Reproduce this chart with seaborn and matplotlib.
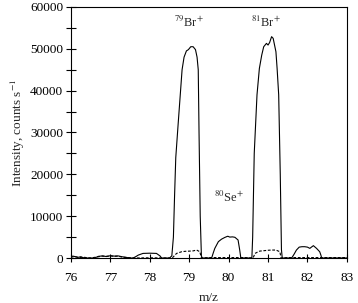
import matplotlib
matplotlib.use("Agg")
import matplotlib.pyplot as plt
import seaborn as sns
import pandas as pd
from matplotlib.ticker import MultipleLocator

# solid trace (m/z, counts s-1)
mz_solid = [76.0, 76.05, 76.1, 76.18, 76.25, 76.3, 76.4, 76.6, 76.7, 76.8, 76.9, 77.0,
            77.1, 77.2, 77.3, 77.5, 77.58, 77.65, 77.71, 77.83, 78.0, 78.17, 78.26, 78.3,
            78.5, 78.56, 78.6, 78.63, 78.66, 78.72, 78.77, 78.82, 78.87, 78.93, 78.98,
            79.04, 79.1, 79.16, 79.2, 79.23, 79.25, 79.28, 79.31, 79.33,
            79.57, 79.61, 79.65, 79.74, 79.82, 79.9, 79.95, 79.98, 80.03, 80.1, 80.16,
            80.24, 80.28, 80.31,
            80.59, 80.61, 80.65, 80.69, 80.72, 80.78, 80.84, 80.89, 80.96, 81.0, 81.04,
            81.09, 81.13, 81.2, 81.23, 81.27, 81.31, 81.34, 81.36,
            81.6, 81.66, 81.72, 81.79, 81.86, 81.93, 82.0, 82.06, 82.1, 82.15, 82.23,
            82.31, 82.34, 82.36, 83.0]
int_solid = [300, 450, 350, 150, 300, 100, 0, 0, 400, 500, 350, 550,
             450, 500, 300, 0, 0, 350, 700, 1100, 1150, 1100, 500, 0,
             0, 500, 5000, 15000, 24000, 32000, 38500, 45000, 48000, 49500, 49800,
             50500, 50500, 49800, 48000, 45000, 30000, 10000, 500, 0,
             0, 1200, 2300, 3900, 4500, 4900, 5100, 5200, 5000, 5050, 4950,
             4300, 2000, 0,
             0, 5000, 25000, 33000, 39000, 45300, 48500, 50500, 51300, 50900, 51500,
             52900, 52500, 49300, 45300, 39000, 20000, 2000, 0,
             0, 900, 1900, 2600, 2700, 2700, 2600, 2300, 2600, 2950, 2300,
             1500, 700, 0, 0]

# dashed trace
mz_dash = [76.0, 76.1, 76.2, 76.3, 76.5, 76.7, 76.8, 76.9, 77.0, 77.1, 77.2, 77.3,
           77.6, 78.0, 78.4, 78.57, 78.62, 78.68, 78.81, 78.9, 79.02, 79.1, 79.19,
           79.27, 79.31, 79.5, 79.8, 80.1, 80.4, 80.62, 80.67, 80.73, 80.79, 80.9,
           81.0, 81.09, 81.2, 81.3, 81.33, 81.5, 81.8, 82.1, 82.4, 82.7, 83.0]
int_dash = [200, 350, 100, 200, 0, 300, 450, 400, 500, 400, 450, 200,
            0, 50, 0, 0, 500, 1100, 1500, 1600, 1650, 1700, 1900,
            1500, 0, 100, 100, 100, 100, 0, 1100, 1400, 1650, 1750,
            1850, 1900, 1900, 1500, 0, 100, 100, 100, 100, 100, 100]

df_solid = pd.DataFrame({"mz": mz_solid, "intensity": int_solid})
df_dash = pd.DataFrame({"mz": mz_dash, "intensity": int_dash})

sns.set_style("white")
plt.rcParams["font.family"] = ["Liberation Serif", "DejaVu Serif"]
plt.rcParams["mathtext.fontset"] = "stix"

fig = plt.figure(figsize=(3.58, 3.03), dpi=100)
ax = fig.add_axes([0.198, 0.1485, 0.771, 0.8285])

sns.lineplot(data=df_solid, x="mz", y="intensity", ax=ax, color="black",
             linewidth=0.8, sort=False, estimator=None)
sns.lineplot(data=df_dash, x="mz", y="intensity", ax=ax, color="black",
             linewidth=0.8, linestyle=(0, (2.5, 1.5)), sort=False, estimator=None)

ax.set_xlim(76, 83)
ax.set_ylim(0, 60000)
ax.xaxis.set_major_locator(MultipleLocator(1))
ax.yaxis.set_major_locator(MultipleLocator(10000))
ax.yaxis.set_minor_locator(MultipleLocator(5000))
ax.tick_params(axis="both", which="both", direction="inout", colors="black",
               labelsize=9.5, width=0.8)
ax.tick_params(axis="y", which="major", length=7, pad=2, left=True)
ax.tick_params(axis="y", which="minor", length=7, left=True)
ax.tick_params(axis="x", which="major", length=6, pad=7, bottom=True)

for sp in ax.spines.values():
    sp.set_color("black")
    sp.set_linewidth(0.8)

ax.set_xlabel("m/z", fontsize=9.5, labelpad=6)
ax.set_ylabel("Intensity, counts s$^{-1}$", fontsize=9.5, labelpad=2)

ax.text(79.0, 56300, "$^{79}$Br$^{+}$", ha="center", va="center", fontsize=9)
ax.text(80.95, 56300, "$^{81}$Br$^{+}$", ha="center", va="center", fontsize=9)
ax.text(80.0, 14500, "$^{80}$Se$^{+}$", ha="center", va="center", fontsize=9)

fig.savefig("out.png", dpi=100)
